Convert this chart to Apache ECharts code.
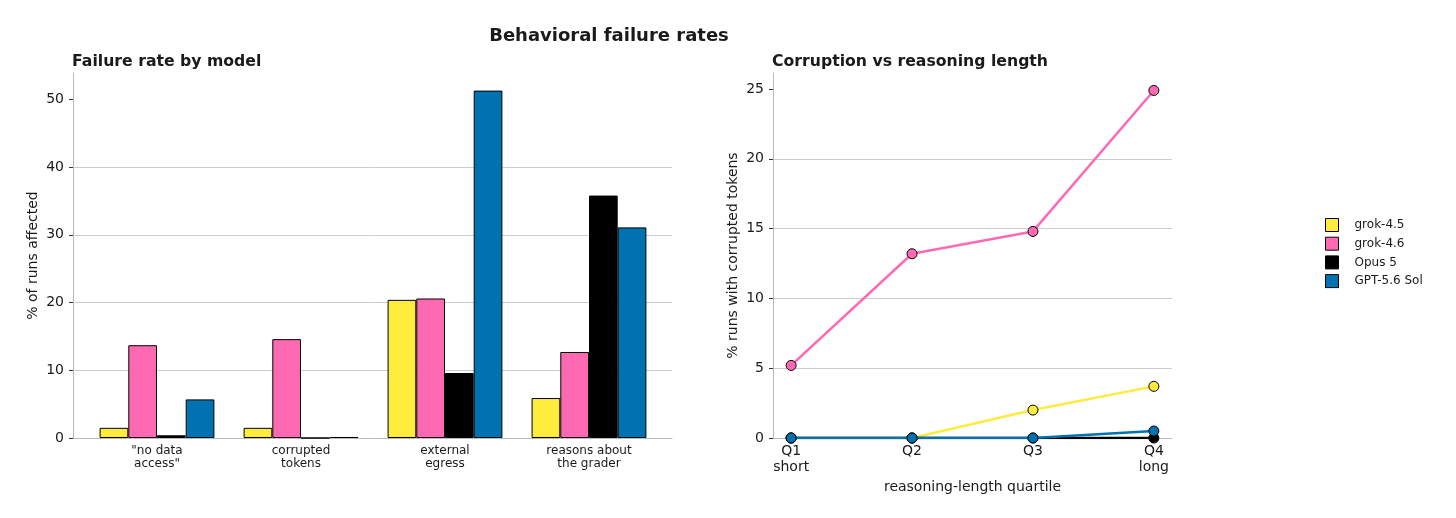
<!DOCTYPE html>
<html lang="en">
<head>
    <meta charset="UTF-8">
    <title>Behavioral failure rates</title>
    <style>
        html, body { margin: 0; padding: 0; background: #fff; }
        #main { width: 1456px; height: 518px; }
    </style>
    <script src="https://cdn.jsdelivr.net/npm/echarts@6/dist/echarts.min.js"></script>
</head>
<body>
    <div id="main"></div>
    <script>
        // data
        var models = ['grok-4.5', 'grok-4.6', 'Opus 5', 'GPT-5.6 Sol'];
        var colors = ['#ffeb3b', '#ff69b4', '#000000', '#0072b2'];

        var failureCats = ['"no data\naccess"', 'corrupted\ntokens', 'external\negress', 'reasons about\nthe grader'];
        var failureGrok45 = [1.5, 1.5, 20.4, 5.9];
        var failureGrok46 = [13.7, 14.6, 20.6, 12.7];
        var failureOpus5 = [0.4, 0, 9.6, 35.8];
        var failureGpt56 = [5.7, 0.15, 51.3, 31.1];

        var quartiles = ['Q1\nshort', 'Q2', 'Q3', 'Q4\nlong'];
        var corruptGrok45 = [0, 0, 2.0, 3.7];
        var corruptGrok46 = [5.2, 13.2, 14.8, 24.9];
        var corruptOpus5 = [0, 0, 0, 0];
        var corruptGpt56 = [0, 0, 0, 0.5];

        var failureTicks = [0, 10, 20, 30, 40, 50];
        var corruptTicks = [0, 5, 10, 15, 20, 25];

        var failureData = [failureGrok45, failureGrok46, failureOpus5, failureGpt56];
        var corruptData = [corruptGrok45, corruptGrok46, corruptOpus5, corruptGpt56];

        var font = 'DejaVu Sans';
        var ink = '#1a1a1a';
        var spine = '#bbbbbb';
        var gridLine = '#cccccc';

        var chart = echarts.init(document.getElementById('main'));

        var series = [];
        // bars, on grid 1 (narrower band so groups sit like the reference)
        models.forEach(function (m, i) {
            series.push({
                name: m,
                type: 'bar',
                xAxisIndex: 1,
                yAxisIndex: 1,
                data: failureData[i],
                barWidth: 28.7,
                barGap: '0%',
                itemStyle: { color: colors[i], borderColor: '#000', borderWidth: 1 },
                emphasis: { disabled: true }
            });
        });
        // lines, on grid 2
        models.forEach(function (m, i) {
            series.push({
                name: m,
                type: 'line',
                xAxisIndex: 2,
                yAxisIndex: 2,
                data: corruptData[i].map(function (v, k) { return [k, v]; }),
                symbol: 'circle',
                symbolSize: 10,
                lineStyle: { color: colors[i], width: 2.5 },
                itemStyle: { color: colors[i], borderColor: '#000', borderWidth: 1 },
                z: 3 + i,
                emphasis: { disabled: true }
            });
        });

        var option = {
            animation: false,
            textStyle: { fontFamily: font },
            title: [
                { text: 'Behavioral failure rates', left: 604, top: 22, textAlign: 'center',
                  textStyle: { fontFamily: font, fontSize: 18, fontWeight: 'bold', color: ink } },
                { text: 'Failure rate by model', left: 67, top: 49,
                  textStyle: { fontFamily: font, fontSize: 15.7, fontWeight: 'bold', color: ink } },
                { text: 'Corruption vs reasoning length', left: 767, top: 49,
                  textStyle: { fontFamily: font, fontSize: 15.7, fontWeight: 'bold', color: ink } }
            ],
            legend: {
                data: models,
                orient: 'vertical',
                left: 1320,
                top: 213,
                itemWidth: 13,
                itemHeight: 13,
                itemGap: 4.7,
                icon: 'rect',
                itemStyle: { borderColor: '#000', borderWidth: 1 },
                textStyle: { fontFamily: font, fontSize: 12, color: ink, padding: [0, 0, 0, 11] }
            },
            grid: [
                { left: 73, width: 599, top: 73, height: 365 },
                { left: 85, width: 576, top: 73, height: 365 },
                { left: 773, width: 399, top: 73, height: 365 }
            ],
            xAxis: [
                { gridIndex: 0, type: 'value', min: 0, max: 1, axisLine: { show: true, onZero: false, lineStyle: { color: spine } },
                  axisTick: { show: false }, axisLabel: { show: false }, splitLine: { show: false } },
                { gridIndex: 1, type: 'category', data: failureCats,
                  axisLine: { show: false }, axisTick: { show: false },
                  axisLabel: { fontFamily: font, fontSize: 12, color: ink, margin: 6, lineHeight: 13 } },
                { gridIndex: 2, type: 'value', min: -0.15, max: 3.15,
                  name: 'reasoning-length quartile', nameLocation: 'middle', nameGap: 40,
                  nameTextStyle: { fontFamily: font, fontSize: 14, color: ink },
                  axisLine: { show: true, onZero: false, lineStyle: { color: spine } },
                  axisTick: { show: false }, splitLine: { show: false },
                  axisLabel: { customValues: [0, 1, 2, 3], fontFamily: font, fontSize: 14, color: ink, margin: 5, lineHeight: 16,
                               formatter: function (v) { return quartiles[Math.round(v)]; } } }
            ],
            yAxis: [
                { gridIndex: 0, type: 'value', min: 0, max: 53.9,
                  name: '% of runs affected', nameLocation: 'middle', nameGap: 33,
                  nameTextStyle: { fontFamily: font, fontSize: 14, color: ink },
                  axisLine: { show: true, onZero: false, lineStyle: { color: spine } },
                  axisTick: { show: true, length: 4, customValues: failureTicks, lineStyle: { color: '#333' } },
                  axisLabel: { customValues: failureTicks, fontFamily: font, fontSize: 14, color: ink, margin: 9 },
                  splitLine: { show: true, showMaxLine: false, lineStyle: { color: gridLine, width: 1 } } },
                { gridIndex: 1, type: 'value', min: 0, max: 53.9, show: false },
                { gridIndex: 2, type: 'value', min: 0, max: 26.15,
                  name: '% runs with corrupted tokens', nameLocation: 'middle', nameGap: 33,
                  nameTextStyle: { fontFamily: font, fontSize: 14, color: ink },
                  axisLine: { show: true, onZero: false, lineStyle: { color: spine } },
                  axisTick: { show: true, length: 4, customValues: corruptTicks, lineStyle: { color: '#333' } },
                  axisLabel: { customValues: corruptTicks, fontFamily: font, fontSize: 14, color: ink, margin: 9 },
                  splitLine: { show: true, showMaxLine: false, lineStyle: { color: gridLine, width: 1 } } }
            ],
            series: series
        };

        chart.setOption(option);
    </script>
</body>
</html>
